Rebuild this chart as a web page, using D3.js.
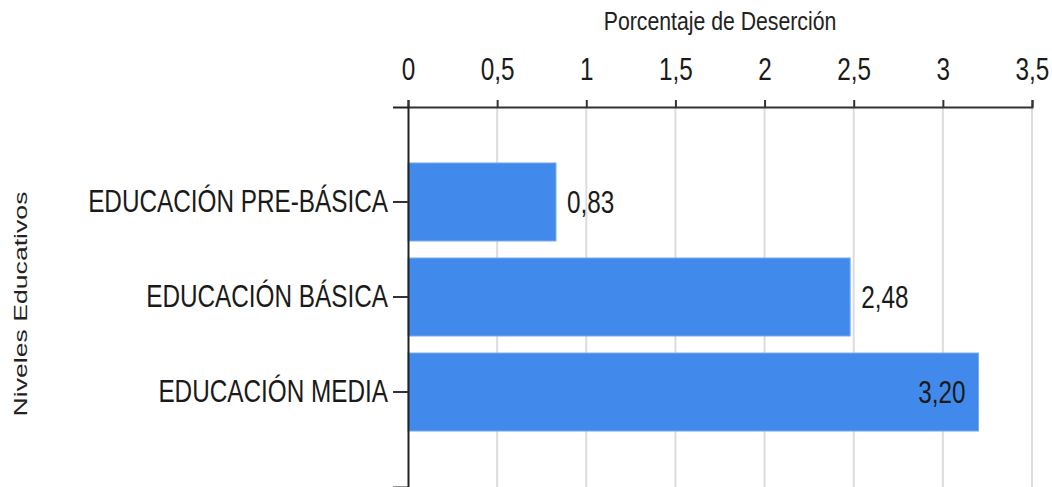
<!DOCTYPE html>
<html>
<head>
<meta charset="utf-8">
<script src="https://cdn.jsdelivr.net/npm/d3@7"></script>
<style>
  html, body { margin: 0; padding: 0; background: #fff; }
  svg text { font-family: "Liberation Sans", Arial, sans-serif; }
</style>
</head>
<body>
<div id="chart"></div>
<script>
// Deserción escolar por nivel educativo (%)
const niveles = ["EDUCACIÓN PRE-BÁSICA", "EDUCACIÓN BÁSICA", "EDUCACIÓN MEDIA"];
const desercion = [0.83, 2.48, 3.20];
const xTicks = [0, 0.5, 1, 1.5, 2, 2.5, 3, 3.5];
const xTitle = "Porcentaje de Deserción";
const yTitle = "Niveles Educativos";

const W = 1052, H = 487;
const plotLeft = 408, plotRight = 1032, plotTop = 107, plotBottom = 487;
const condense = 0.76; // narrow glyph width used by every label

const fmt = v => d3.format(".2f")(v).replace(".", ",");
const fmtTick = v => String(v).replace(".", ",");

const svg = d3.select("#chart").append("svg")
  .attr("width", W).attr("height", H);

const x = d3.scaleLinear().domain([0, 3.5]).range([plotLeft, plotRight]);
const y = d3.scaleBand().domain(niveles).range([plotTop, plotBottom])
  .paddingInner(0.179).paddingOuter(0.589);

// vertical grid
svg.append("g").selectAll("line")
  .data(xTicks.filter(t => t > 0))
  .join("line")
  .attr("x1", d => x(d)).attr("x2", d => x(d))
  .attr("y1", plotTop).attr("y2", plotBottom)
  .attr("stroke", "#dcdcdc").attr("stroke-width", 2);

// bars
const data = niveles.map((n, i) => ({ n, v: desercion[i] }));
svg.append("g").selectAll("rect")
  .data(data)
  .join("rect")
  .attr("x", x(0))
  .attr("y", d => y(d.n))
  .attr("width", d => x(d.v) - x(0))
  .attr("height", y.bandwidth())
  .attr("fill", "#418AEB")
  .attr("stroke", "#79abef")
  .attr("stroke-width", 1);

// value labels: outside the bar unless it reaches near the end of the axis
const inside = d => x(d.v) > plotRight - 80;
svg.append("g").selectAll("text")
  .data(data)
  .join("text")
  .attr("transform", d => {
    const tx = inside(d) ? x(d.v) - 13 : x(d.v) + 11;
    return `translate(${tx},${y(d.n) + y.bandwidth() / 2}) scale(${condense},1)`;
  })
  .attr("text-anchor", d => inside(d) ? "end" : "start")
  .attr("dy", "0.35em")
  .attr("font-size", 32)
  .attr("fill", "#1a1a1a")
  .text(d => fmt(d.v));

// top axis
const xAxis = svg.append("g")
  .attr("transform", `translate(0,${plotTop})`)
  .call(d3.axisTop(x).tickValues(xTicks).tickFormat(fmtTick).tickSize(7).tickSizeOuter(7).tickPadding(20));
xAxis.select(".domain").attr("stroke", "#333").attr("stroke-width", 2);
xAxis.selectAll(".tick line").attr("stroke", "#333").attr("stroke-width", 2);
xAxis.selectAll(".tick text")
  .attr("font-size", 32)
  .attr("fill", "#1a1a1a")
  .attr("transform", `scale(${condense},1)`);
xAxis.attr("font-family", null);

// left axis
const yAxis = svg.append("g")
  .attr("transform", `translate(${plotLeft},0)`)
  .call(d3.axisLeft(y).tickSize(15).tickSizeOuter(15).tickPadding(5));
yAxis.select(".domain").attr("stroke", "#222").attr("stroke-width", 2);
yAxis.selectAll(".tick line").attr("stroke", "#333").attr("stroke-width", 2);
yAxis.selectAll(".tick text")
  .attr("x", 0)
  .attr("transform", `translate(-20,0) scale(${condense},1)`)
  .attr("font-size", 32)
  .attr("fill", "#1a1a1a");
yAxis.attr("font-family", null);

// axis titles
svg.append("text")
  .attr("transform", `translate(${(plotLeft + plotRight) / 2},30) scale(0.85,1)`)
  .attr("text-anchor", "middle")
  .attr("font-size", 25)
  .attr("fill", "#222")
  .text(xTitle);

svg.append("text")
  .attr("transform", `translate(27,${(plotTop + plotBottom) / 2 + 7}) rotate(-90)`)
  .attr("text-anchor", "middle")
  .attr("font-size", 19)
  .attr("textLength", 225)
  .attr("lengthAdjust", "spacingAndGlyphs")
  .attr("fill", "#222")
  .text(yTitle);
</script>
</body>
</html>
